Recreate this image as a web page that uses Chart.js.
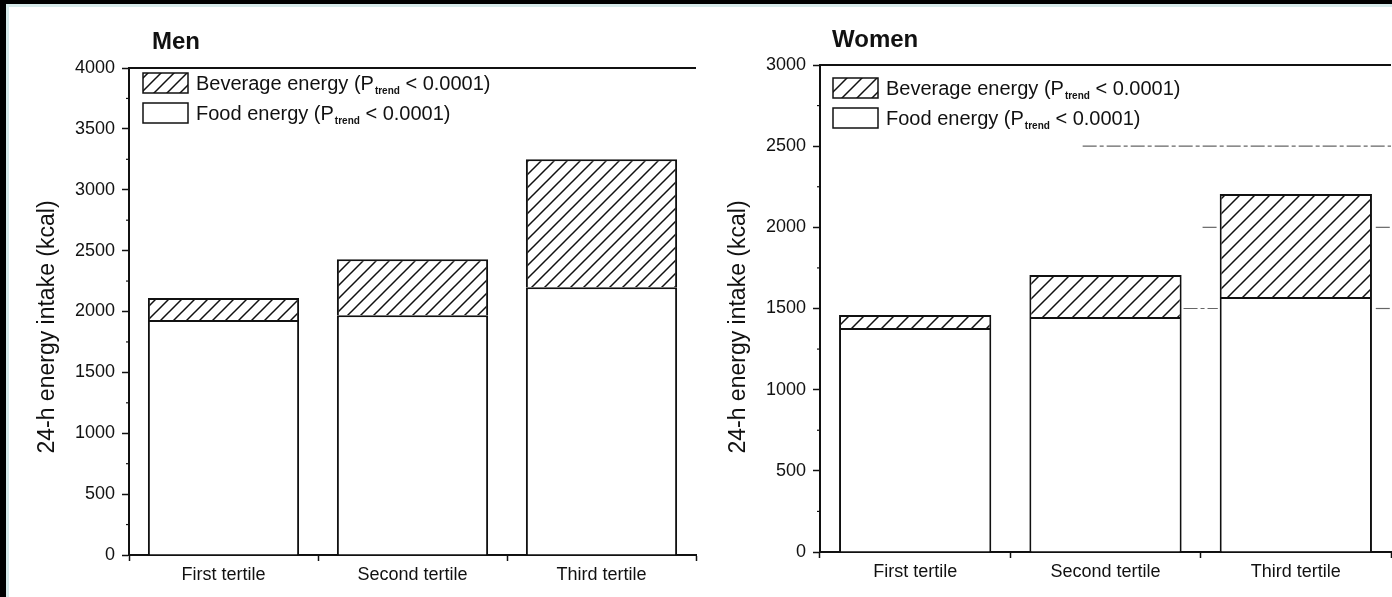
<!DOCTYPE html>
<html>
<head>
<meta charset="utf-8">
<script src="https://cdn.jsdelivr.net/npm/chart.js@4.4.1/dist/chart.umd.min.js"></script>
<style>
    html, body { margin: 0; padding: 0; background: #000; width: 1392px; height: 597px; overflow: hidden; }
    #paper { position: absolute; left: 6px; top: 4px; right: 0; bottom: 0; background: #fff;
             border-left: 3px solid #d6eaea; border-top: 3px solid #d6eaea; }
    .box { position: absolute; top: 0; height: 597px; }
    #men-box { left: 0; width: 700px; }
    #women-box { left: 700px; width: 692px; }
</style>
</head>
<body>
<div id="paper"></div>
<div class="box" id="men-box"><canvas id="menChart"></canvas></div>
<div class="box" id="women-box"><canvas id="womenChart"></canvas></div>

<script>
// Dados (kcal)
const categories = ["First tertile", "Second tertile", "Third tertile"];
const menFood = [1930, 1970, 2200];
const menBeverage = [180, 460, 1050];
const womenFood = [1380, 1448, 1571];
const womenBeverage = [80, 258, 634];

const menMax = 4000;
const womenMax = 3000;
const tickStep = 500;

const foodLabel = "Food energy";
const beverageLabel = "Beverage energy";
const pLabel = "< 0.0001)";
const yTitle = "24-h energy intake (kcal)";

// Linhas tracejadas apagadas que aparecem no painel das mulheres
const womenGuideValues = [2500, 2000, 2000, 1500, 1500];
const womenGuideFrom = [0.88, 1.51, 2.42, 1.41, 2.42];
const womenGuideTo = [2.5, 1.59, 2.5, 1.59, 2.5];

const INK = "#111";
const FONT = '"Liberation Sans", Arial, sans-serif';

// Padrão hachurado (linhas diagonais)
function makeHatch(size) {
    const c = document.createElement("canvas");
    c.width = size;
    c.height = size;
    const g = c.getContext("2d");
    g.fillStyle = "#fff";
    g.fillRect(0, 0, size, size);
    g.strokeStyle = INK;
    g.lineWidth = 1.5;
    g.beginPath();
    g.moveTo(-1, size + 1); g.lineTo(size + 1, -1);
    g.moveTo(-2, 2); g.lineTo(2, -2);
    g.moveTo(size - 2, size + 2); g.lineTo(size + 2, size - 2);
    g.stroke();
    return g.createPattern(c, "repeat");
}

// Título, eixo, legenda e marcas menores
const decorPlugin = {
    id: "decor",
    afterDraw(chart, args, opts) {
        const { ctx, chartArea: a, scales: { x, y } } = chart;
        ctx.save();

        // linhas-guia
        if (opts.guides) {
            ctx.strokeStyle = "#666";
            ctx.lineWidth = 1.2;
            ctx.setLineDash([14, 3, 4, 3]);
            opts.guides.values.forEach((v, i) => {
                const py = y.getPixelForValue(v);
                ctx.beginPath();
                ctx.moveTo(x.getPixelForValue(opts.guides.from[i]), py);
                ctx.lineTo(Math.min(a.right, x.getPixelForValue(opts.guides.to[i])), py);
                ctx.stroke();
            });
            ctx.setLineDash([]);
        }

        // linha superior
        ctx.strokeStyle = INK;
        ctx.lineWidth = 2;
        ctx.beginPath();
        ctx.moveTo(a.left, a.top);
        ctx.lineTo(a.right, a.top);
        ctx.stroke();

        // marcas menores
        ctx.lineWidth = 1.2;
        for (let v = tickStep / 2; v < y.max; v += tickStep) {
            const py = y.getPixelForValue(v);
            ctx.beginPath();
            ctx.moveTo(a.left, py);
            ctx.lineTo(a.left - 3, py);
            ctx.stroke();
        }

        ctx.fillStyle = INK;

        // título do painel
        ctx.font = "bold 24px " + FONT;
        ctx.textBaseline = "alphabetic";
        ctx.textAlign = "left";
        ctx.fillText(opts.title, a.left + opts.titleDx, opts.titleY);

        // título do eixo y
        ctx.save();
        ctx.translate(opts.yTitleX, 327);
        ctx.rotate(-Math.PI / 2);
        ctx.font = "23px " + FONT;
        ctx.textAlign = "center";
        ctx.textBaseline = "middle";
        ctx.fillText(yTitle, 0, 0);
        ctx.restore();

        // legenda
        const items = chart.data.datasets.slice().reverse();
        items.forEach((ds, i) => {
            const bx = a.left + opts.legendDx;
            const by = opts.legendY + i * 30;
            ctx.fillStyle = ds.backgroundColor;
            ctx.fillRect(bx, by, 45, 20);
            ctx.strokeStyle = INK;
            ctx.lineWidth = 1.5;
            ctx.strokeRect(bx, by, 45, 20);

            ctx.fillStyle = INK;
            ctx.textAlign = "left";
            ctx.textBaseline = "alphabetic";
            let tx = bx + 53;
            const base = by + 17;
            ctx.font = "20px " + FONT;
            const main = ds.label + " (P";
            ctx.fillText(main, tx, base);
            tx += ctx.measureText(main).width + 1;
            ctx.font = "bold 10px " + FONT;
            ctx.fillText("trend", tx, base + 4);
            tx += ctx.measureText("trend").width;
            ctx.font = "20px " + FONT;
            ctx.fillText(" " + pLabel, tx, base);
        });

        ctx.restore();
    }
};

function buildChart(id, food, beverage, maxY, hatchSize, layout, decor) {
    const ctx = document.getElementById(id).getContext("2d");
    return new Chart(ctx, {
        type: "bar",
        data: {
            labels: categories,
            datasets: [
                {
                    label: foodLabel,
                    data: food,
                    backgroundColor: "#fff",
                    borderColor: INK,
                    borderWidth: 2,
                    barPercentage: 0.8,
                    categoryPercentage: 1.0
                },
                {
                    label: beverageLabel,
                    data: beverage,
                    backgroundColor: makeHatch(hatchSize),
                    borderColor: INK,
                    borderWidth: 2,
                    barPercentage: 0.8,
                    categoryPercentage: 1.0
                }
            ]
        },
        options: {
            responsive: true,
            maintainAspectRatio: false,
            animation: false,
            layout: { padding: { top: layout.top, right: layout.right, left: 0, bottom: 0 } },
            plugins: {
                legend: { display: false },
                tooltip: { enabled: false },
                decor: decor
            },
            scales: {
                x: {
                    stacked: true,
                    afterFit: (s) => { s.height = layout.xHeight; },
                    grid: { offset: true, drawOnChartArea: false, tickLength: 6, tickWidth: 1.5, tickColor: INK },
                    border: { color: INK, width: 2 },
                    ticks: { color: INK, padding: 3, font: { family: FONT, size: 18 } }
                },
                y: {
                    stacked: true,
                    min: 0,
                    max: maxY,
                    afterFit: (s) => { s.width = layout.yWidth; },
                    grid: { drawOnChartArea: false, tickLength: 7, tickWidth: 1.5, tickColor: INK },
                    border: { color: INK, width: 2 },
                    ticks: {
                        stepSize: tickStep,
                        color: INK,
                        padding: 7,
                        font: { family: FONT, size: 18 },
                        callback: (value) => String(value) // sem separador de milhar
                    }
                }
            }
        },
        plugins: [decorPlugin]
    });
}

buildChart("menChart", menFood, menBeverage, menMax, 13,
    { top: 68, right: 4, xHeight: 42, yWidth: 129 },
    { title: "Men", titleDx: 23, titleY: 49, yTitleX: 48, legendDx: 14, legendY: 73 });

buildChart("womenChart", womenFood, womenBeverage, womenMax, 15,
    { top: 65, right: 1, xHeight: 45, yWidth: 120 },
    { title: "Women", titleDx: 12, titleY: 47, yTitleX: 39, legendDx: 13, legendY: 78,
      guides: { values: womenGuideValues, from: womenGuideFrom, to: womenGuideTo } });
</script>
</body>
</html>
